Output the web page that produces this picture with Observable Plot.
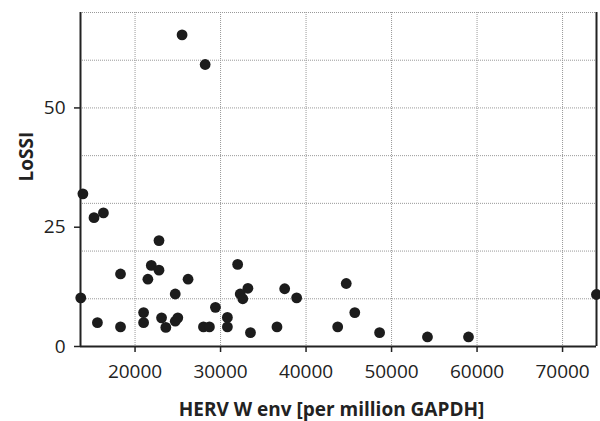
<!DOCTYPE html>
<html>
<head>
<meta charset="utf-8">
<script src="https://cdn.jsdelivr.net/npm/d3@7"></script>
<script src="https://cdn.jsdelivr.net/npm/@observablehq/plot@0.6"></script>
<style>
  html, body { margin: 0; padding: 0; background: #fff; }
</style>
</head>
<body>
<div id="chart"></div>
<script>
// HERV W env [per million GAPDH]
const hervW = [
  13900, 15200, 16300, 22800, 21900, 22800, 18300, 21500, 26200, 24700,
  13650, 21000, 15600, 21000, 18300, 23100, 23600, 24700, 25000, 32000,
  33200, 32300, 32600, 37500, 38900, 29400, 30800, 30800, 28000, 28700,
  33500, 36600, 44700, 45700, 43700, 48600, 54200, 59000, 73960, 25500,
  28200
];
// LoSSI
const lossi = [
  32, 27, 28, 22.2, 17, 16, 15.2, 14.1, 14.1, 11,
  10.2, 7.1, 5, 5, 4.1, 6, 4, 5.3, 6, 17.2,
  12.2, 11, 10, 12.1, 10.2, 8.2, 6.1, 4.1, 4.1, 4.1,
  2.9, 4.1, 13.2, 7.1, 4.1, 2.9, 2, 2, 10.9, 65.3,
  59.1
];
const xTicks = [20000, 30000, 40000, 50000, 60000, 70000];
const yTicks = [0, 25, 50];
const yGrid = [10, 20, 30, 40, 50, 60, 70];
const xLabel = "HERV W env [per million GAPDH]";
const yLabel = "LoSSI";

const data = hervW.map((x, i) => ({x, y: lossi[i]}));
const xDomain = [13620, 73970];

const chart = Plot.plot({
  width: 600,
  height: 421,
  marginLeft: 80,
  marginRight: 4,
  marginTop: 12,
  marginBottom: 75,
  style: {fontFamily: "'Open Sans', sans-serif", fontSize: "19px", color: "#222", background: "#fff"},
  x: {domain: xDomain},
  y: {domain: [0, 70]},
  marks: [
    Plot.gridX(xTicks, {stroke: "#999", strokeOpacity: 1, strokeDasharray: "1,1"}),
    Plot.gridY(yGrid, {stroke: "#999", strokeOpacity: 1, strokeDasharray: "1,1"}),
    Plot.axisX({ticks: xTicks, tickFormat: d3.format("d"), tickSize: 6, tickPadding: 12, strokeWidth: 1.5, label: null, fontSize: 19}),
    Plot.axisY({ticks: yTicks, tickSize: 6, tickPadding: 9, strokeWidth: 1.5, label: null, fontSize: 19}),
    Plot.ruleX([xDomain[0]], {stroke: "#222", strokeWidth: 2}),
    Plot.ruleX([xDomain[1]], {stroke: "#222", strokeWidth: 2}),
    Plot.ruleY([0], {stroke: "#222", strokeWidth: 2}),
    Plot.dot(data, {x: "x", y: "y", r: 5.4, fill: "#1c1c1c", stroke: null}),
    Plot.text([xLabel], {frameAnchor: "bottom", lineAnchor: "bottom", dx: -7, dy: 69, fontWeight: "bold", fontSize: 19, fill: "#222"}),
    Plot.text([yLabel], {frameAnchor: "left", lineAnchor: "bottom", rotate: -90, dx: -48, dy: 2, fontWeight: "bold", fontSize: 19, fill: "#222"})
  ]
});
document.getElementById("chart").appendChild(chart);
</script>
</body>
</html>
